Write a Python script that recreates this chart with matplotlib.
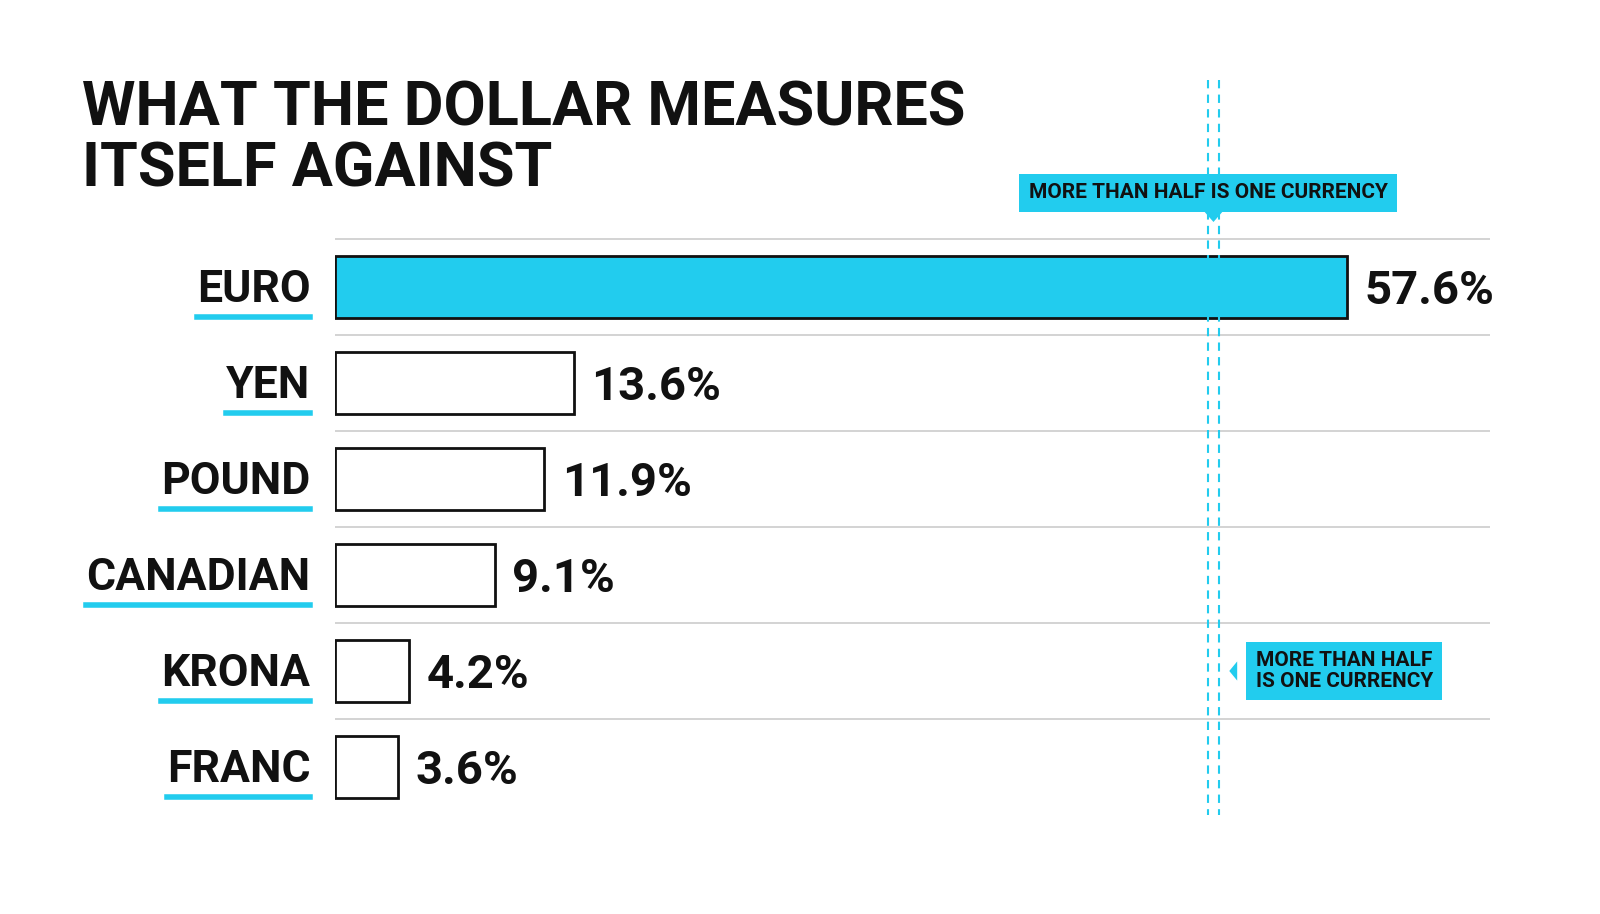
import matplotlib.pyplot as plt
from matplotlib.patches import Rectangle, Polygon

currencies = ["EURO", "YEN", "POUND", "CANADIAN", "KRONA", "FRANC"]
shares = [57.6, 13.6, 11.9, 9.1, 4.2, 3.6]
threshold = 50
title = "WHAT THE DOLLAR MEASURES\nITSELF AGAINST"
callout_top = "MORE THAN HALF IS ONE CURRENCY"
callout_side = "MORE THAN HALF\nIS ONE CURRENCY"

CYAN = "#22CCEE"
FONT = ["Liberation Sans Narrow", "Roboto", "DejaVu Sans"]

fig = plt.figure(figsize=(16, 9.14), dpi=100)
# axes spans full height; x from pixel 335 to 1490
ax = fig.add_axes([335 / 1600, 0, 1155 / 1600, 1])
px_per_unit = (1347 - 335) / 57.6
ax.set_xlim(0, 1155 / px_per_unit)
row_px = 96
ax.set_ylim((914 - 287) / row_px, -287 / row_px)
ax.axis("off")

bar_h = 0.64
for i, (name, v) in enumerate(zip(currencies, shares)):
    face = CYAN if i == 0 else "white"
    ax.add_patch(Rectangle((0, i - bar_h / 2), v, bar_h, facecolor=face,
                           edgecolor="#111111", linewidth=2, zorder=2))
    ax.text(v + 1.0, i + 0.04, f"{v}%", va="center", ha="left", fontsize=34,
            fontweight="bold", family=FONT, color="#111111")
    ax.text(-1.4, i + 0.03, name, va="center", ha="right", fontsize=32,
            fontweight="bold", family=FONT, color="#111111")
    # separator line above each row
    ax.plot([0, 1155 / px_per_unit], [i - 0.5, i - 0.5], color="#cccccc", lw=1.2, zorder=1)

fig.canvas.draw()
r = fig.canvas.get_renderer()
for t in ax.texts:
    if t.get_text() in currencies:
        bb = t.get_window_extent(r)
        y = 914 - (bb.y0 - 6)
        fig.add_artist(plt.Line2D([bb.x0 / 1600, 310 / 1600],
                                  [1 - y / 914] * 2, color=CYAN, lw=4))

# threshold lines
y_top, y_bot = (80 - 287) / row_px, (815 - 287) / row_px
for dx in (-0.32, 0.32):
    ax.plot([threshold + dx] * 2, [y_top, y_bot], color=CYAN, lw=1.5,
            ls=(0, (4, 3)), zorder=3)

ax.text(threshold - 0.3, (193 - 287) / row_px, callout_top, ha="center", va="center",
        fontsize=15, fontweight="bold", family=FONT, color="#111111",
        bbox=dict(boxstyle="square,pad=0.45", fc=CYAN, ec="none"))
ax.add_patch(Polygon([(threshold - 0.6, (210 - 287) / row_px),
                      (threshold + 0.6, (210 - 287) / row_px),
                      (threshold, (222 - 287) / row_px)], fc=CYAN, ec="none"))
ax.text(threshold + 2.4, 4.0, callout_side, ha="left", va="center",
        fontsize=15, fontweight="bold", family=FONT, color="#111111", linespacing=1.1,
        bbox=dict(boxstyle="square,pad=0.45", fc=CYAN, ec="none"))
ax.add_patch(Polygon([(threshold + 1.35, 3.9), (threshold + 1.35, 4.1),
                      (threshold + 0.9, 4.0)], fc=CYAN, ec="none"))

fig.text(82 / 1600, 1 - 80 / 914, title, ha="left", va="top", fontsize=44,
         fontweight="bold", family=FONT, color="#111111", linespacing=1.05)

fig.savefig("out.png", dpi=100, facecolor="white")
